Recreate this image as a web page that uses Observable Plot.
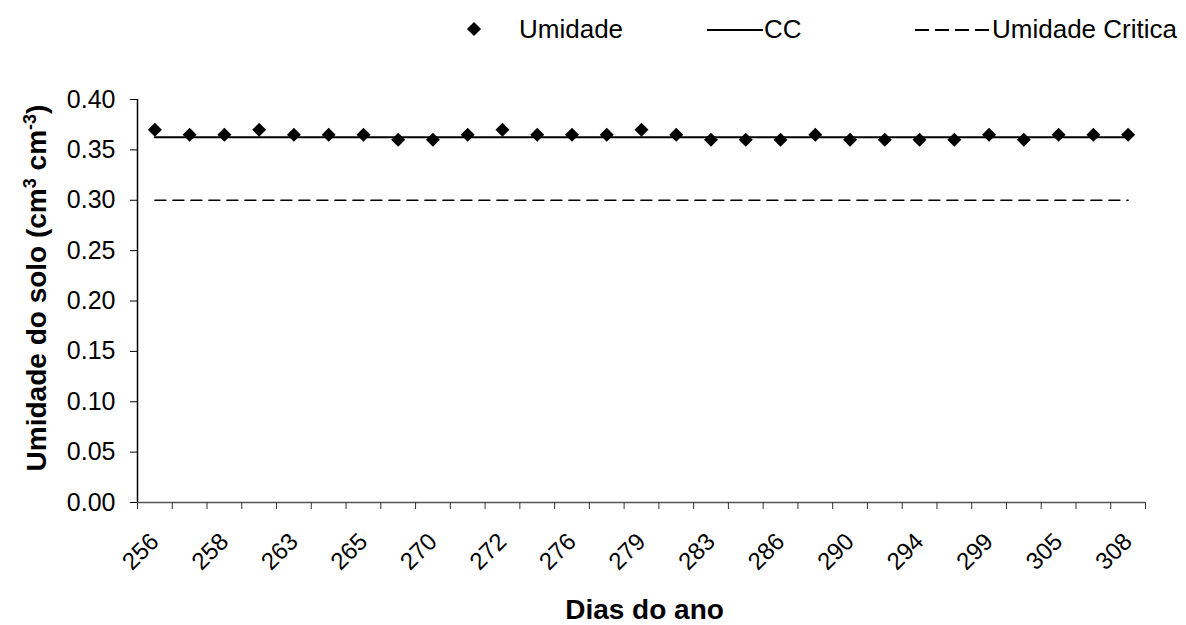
<!DOCTYPE html>
<html>
<head>
<meta charset="utf-8">
<script src="https://cdn.jsdelivr.net/npm/d3@7"></script>
<script src="https://cdn.jsdelivr.net/npm/@observablehq/plot@0.6"></script>
<style>
  html, body { margin: 0; padding: 0; background: #fff; }
  body { width: 1186px; height: 625px; overflow: hidden; font-family: "Liberation Sans", Arial, sans-serif; }
  #legend { position: relative; width: 1186px; height: 60px; font-size: 26px; color: #000; }
  #legend .item { position: absolute; top: 14px; line-height: 30px; white-space: nowrap; }
  #legend .sym { position: absolute; }
</style>
</head>
<body>
<div id="legend">
  <div class="sym" style="left:469px;top:24px;width:10px;height:10px;background:#000;transform:rotate(45deg);"></div>
  <div class="item" style="left:519px;">Umidade</div>
  <div class="sym" style="left:707px;top:29px;width:56px;height:0;border-top:2px solid #000;"></div>
  <div class="item" style="left:764px;">CC</div>
  <div class="sym" style="left:915px;top:29px;width:76px;height:2px;background:repeating-linear-gradient(90deg,#000 0 14px,transparent 14px 20px);"></div>
  <div class="item" style="left:992px;">Umidade Critica</div>
</div>
<div id="chart"></div>
<script>
// ---- data ----
const days = [256,257,258,261,263,264,265,268,270,271,272,274,276,277,279,281,283,284,286,288,290,292,294,297,299,302,305,307,308];
const umidade = [0.370,0.365,0.365,0.370,0.365,0.365,0.365,0.360,0.360,0.365,0.370,0.365,0.365,0.365,0.370,0.365,0.360,0.360,0.360,0.365,0.360,0.360,0.360,0.360,0.365,0.360,0.365,0.365,0.365];
const ccValue = 0.3625;
const criticaValue = 0.30;
const yTicks = [0,0.05,0.10,0.15,0.20,0.25,0.30,0.35,0.40];
const yTitle = "Umidade do solo (cm3 cm-3)";
const xTitle = "Dias do ano";

const table = days.map((d, i) => ({i, day: d, umidade: umidade[i], cc: ccValue, critica: criticaValue}));
const boundaries = d3.range(days.length + 1).map(k => k - 0.5);
const labelIdx = d3.range(0, days.length, 2);

const plot = Plot.plot({
  width: 1186,
  height: 565,
  marginLeft: 137,
  marginRight: 41,
  marginTop: 39,
  marginBottom: 123,
  style: {fontFamily: "'Liberation Sans', Arial, sans-serif", fontSize: "25px", color: "#000", background: "#fff", overflow: "visible"},
  x: {type: "linear", domain: [-0.5, days.length - 0.5]},
  y: {domain: [0, 0.4]},
  marks: [
    Plot.ruleY([0], {stroke: "#555", strokeWidth: 1.5}),
    Plot.ruleX([-0.5], {stroke: "#000", strokeWidth: 1.5}),
    Plot.axisY({ticks: yTicks, tickFormat: d => d.toFixed(2), tickSize: 7, tickPadding: 15, label: null, stroke: "#000"}),
    Plot.axisX({ticks: boundaries, tickSize: 7, tickFormat: () => "", label: null, stroke: "#333"}),
    Plot.axisX({ticks: labelIdx, tickSize: 0, tickPadding: 35, tickRotate: -45, tickFormat: i => String(days[i]), label: null, fontSize: 24}),
    Plot.lineY(table, {x: "i", y: "critica", stroke: "#000", strokeWidth: 1.5, strokeDasharray: "11,7"}),
    Plot.lineY(table, {x: "i", y: "cc", stroke: "#000", strokeWidth: 2}),
    Plot.dot(table, {x: "i", y: "umidade", symbol: "diamond2", r: 6.3, fill: "#000", stroke: "none"}),
    Plot.text([xTitle], {frameAnchor: "bottom", dx: 3, dy: 108, lineAnchor: "middle", fontWeight: "bold", fontSize: 28, text: d => d}),
    Plot.text([yTitle], {frameAnchor: "left", textAnchor: "middle", dx: -100, dy: -13, rotate: -90, fontWeight: "bold", fontSize: 28, text: d => d, className: "ytitle"})
  ]
});
document.getElementById("chart").appendChild(plot);

// superscripts in the y title
const yt = plot.querySelector(".ytitle text");
if (yt) {
  yt.textContent = "";
  const parts = [["Umidade do solo (cm", false], ["3", true], [" cm", false], ["-3", true], [")", false]];
  for (const [t, sup] of parts) {
    const ts = document.createElementNS("http://www.w3.org/2000/svg", "tspan");
    ts.textContent = t;
    if (sup) { ts.setAttribute("baseline-shift", "super"); ts.setAttribute("font-size", "18"); }
    yt.appendChild(ts);
  }
}
</script>
</body>
</html>
